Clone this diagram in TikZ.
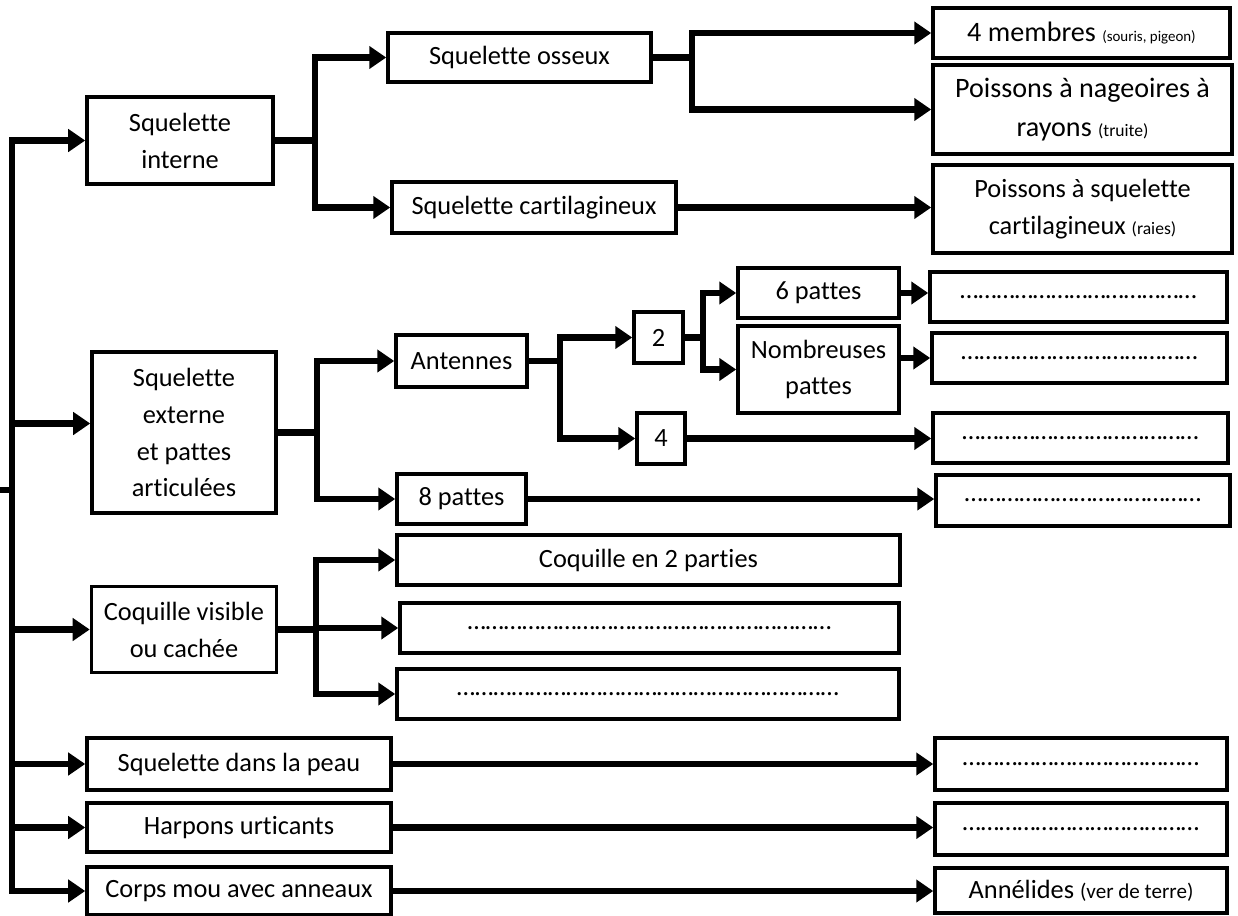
\documentclass[tikz,border=0pt]{standalone}
\usepackage{fontspec}
\setmainfont{Carlito}[Ligatures=NoCommon]
\usepackage{tikz}
\usetikzlibrary{arrows.meta}
\usetikzlibrary{positioning}
\tikzstyle{box}=[draw,line width=2pt,fill=white,inner sep=0pt,align=center,font=\fontsize{15}{21}\selectfont]
\tikzstyle{grand}=[font=\fontsize{16}{22}\selectfont]
\tikzstyle{link}=[line width=3.8pt,line join=miter]
\tikzstyle{arr}=[link,-{Triangle[length=0.34cm,width=0.44cm]}]
\tikzset{wh/.style 2 args={minimum width=#1*0.02cm,minimum height=#2*0.02cm}}
\newcommand{\petit}[2][10]{{\fontsize{#1}{12}\selectfont #2}}
\newcommand{\trous}[1]{\foreach \i in {1,...,#1}{…}}

\begin{document}
\begin{tikzpicture}[x=0.02cm,y=-0.02cm]
\useasboundingbox (0,0) rectangle (1238,916);

% premier niveau
\node[box,wh={186}{87}] (interne) at (180,140.5) {Squelette\\interne};
\node[box,wh={184}{161}] (externe) at (184,432.5) {Squelette\\externe\\ et pattes\\articulées};
\node[box,wh={185}{86}] (coquille) at (184,629.5) {Coquille visible\\ou cachée};
\node[box,wh={304}{52}] (peau) at (239,764) {Squelette dans la peau};
\node[box,wh={304}{49}] (harpons) at (239,827.5) {Harpons urticants};
\node[box,wh={304}{48}] (corps) at (239,891) {Corps mou avec anneaux};

% squelette interne
\node[box,wh={263}{49}] (osseux) at (519.5,57.5) {Squelette osseux};
\node[box,wh={284}{51}] (cartil) at (534,207.5) {Squelette cartilagineux};
\node[box,grand,wh={297}{50}] (membres) at (1081.5,33) {4 membres \petit[8.5]{(souris, pigeon)}};
\node[box,grand,wh={299}{89}] (nageoires) at (1082.5,109.5) {Poissons à nageoires à\\rayons \petit{(truite)}};
\node[box,wh={299}{88}] (raies) at (1082.5,209) {Poissons à squelette\\cartilagineux \petit{(raies)}};

% squelette externe
\node[box,wh={131}{52}] (antennes) at (461.5,361) {Antennes};
\node[box,wh={129}{50}] (huitp) at (461.5,499) {8 pattes};
\node[box,wh={49}{51}] (deux) at (658.5,337.5) {2};
\node[box,wh={48}{51}] (quatre) at (661,438.5) {4};
\node[box,wh={161}{50}] (sixp) at (818.5,293) {6 pattes};
\node[box,wh={161}{87}] (nombr) at (818.5,369.5) {Nombreuses\\pattes};
\node[box,wh={297}{50}] (repA) at (1078.5,297) {\trous{13}};
\node[box,wh={295}{50}] (repB) at (1079.5,358) {\trous{13}};
\node[box,wh={295}{50}] (repC) at (1080.5,438) {\trous{13}};
\node[box,wh={294}{51}] (repD) at (1083,500.5) {\trous{13}};

% coquille
\node[box,wh={503}{50}] (parties) at (648.5,560) {Coquille en 2 parties};
\node[box,wh={499}{50}] (repE) at (649.5,628) {\trous{20}};
\node[box,wh={502}{50}] (repF) at (648,694) {\trous{21}};

% autres
\node[box,wh={292}{52}] (repG) at (1081,764) {\trous{13}};
\node[box,wh={292}{52}] (repH) at (1081,829) {\trous{13}};
\node[box,wh={292}{45}] (annel) at (1081,890.5) {Annélides \petit[12]{(ver de terre)}};

% embranchements
\coordinate (entree) at (0,490);
\coordinate (tronc) at (12,490);
\coordinate (jint) at (315,0);
\coordinate (joss) at (692,0);
\coordinate (jext) at (317,0);
\coordinate (jant) at (560,0);
\coordinate (jdeux) at (703,0);
\coordinate (jcoq) at (316,0);

\draw[link] (entree) -- (tronc);
\draw[arr] (tronc) |- (interne);
\draw[arr] (tronc) |- ([yshift=0.18cm]externe.west);
\draw[arr] (tronc) |- (coquille);
\draw[arr] (tronc) |- (peau);
\draw[arr] (tronc) |- (harpons);
\draw[arr] (tronc) |- (corps);

\draw[arr] (interne.east) -- (interne.east -| jint) |- (osseux);
\draw[arr] (interne.east -| jint) |- (cartil);
\draw[arr] (osseux.east) -- (osseux.east -| joss) |- (membres);
\draw[arr] (osseux.east -| joss) |- (nageoires);
\draw[arr] (cartil.east) -- (cartil.east -| raies.west);

\draw[arr] (externe.east) -- (externe.east -| jext) |- (antennes);
\draw[arr] (externe.east -| jext) |- (huitp);
\draw[arr] (antennes.east) -- (antennes.east -| jant) |- (deux);
\draw[arr] (antennes.east -| jant) |- (quatre);
\draw[arr] (deux.east) -- (deux.east -| jdeux) |- (sixp);
\draw[arr] (deux.east -| jdeux) |- (nombr);
\draw[arr] (sixp.east) -- (sixp.east -| repA.west);
\draw[arr] (nombr.east |- repB) -- (repB.west);
\draw[arr] (quatre.east) -- (quatre.east -| repC.west);
\draw[arr] (huitp.east) -- (huitp.east -| repD.west);

\draw[arr] (coquille.east) -- (coquille.east -| jcoq) |- (parties);
\draw[arr] (coquille.east -| jcoq) |- (repE);
\draw[arr] (coquille.east -| jcoq) |- (repF);

\draw[arr] (peau) -- (repG);
\draw[arr] (harpons.east) -- (harpons.east -| repH.west);
\draw[arr] (corps.east) -- (corps.east -| annel.west);

\end{tikzpicture}
\end{document}
